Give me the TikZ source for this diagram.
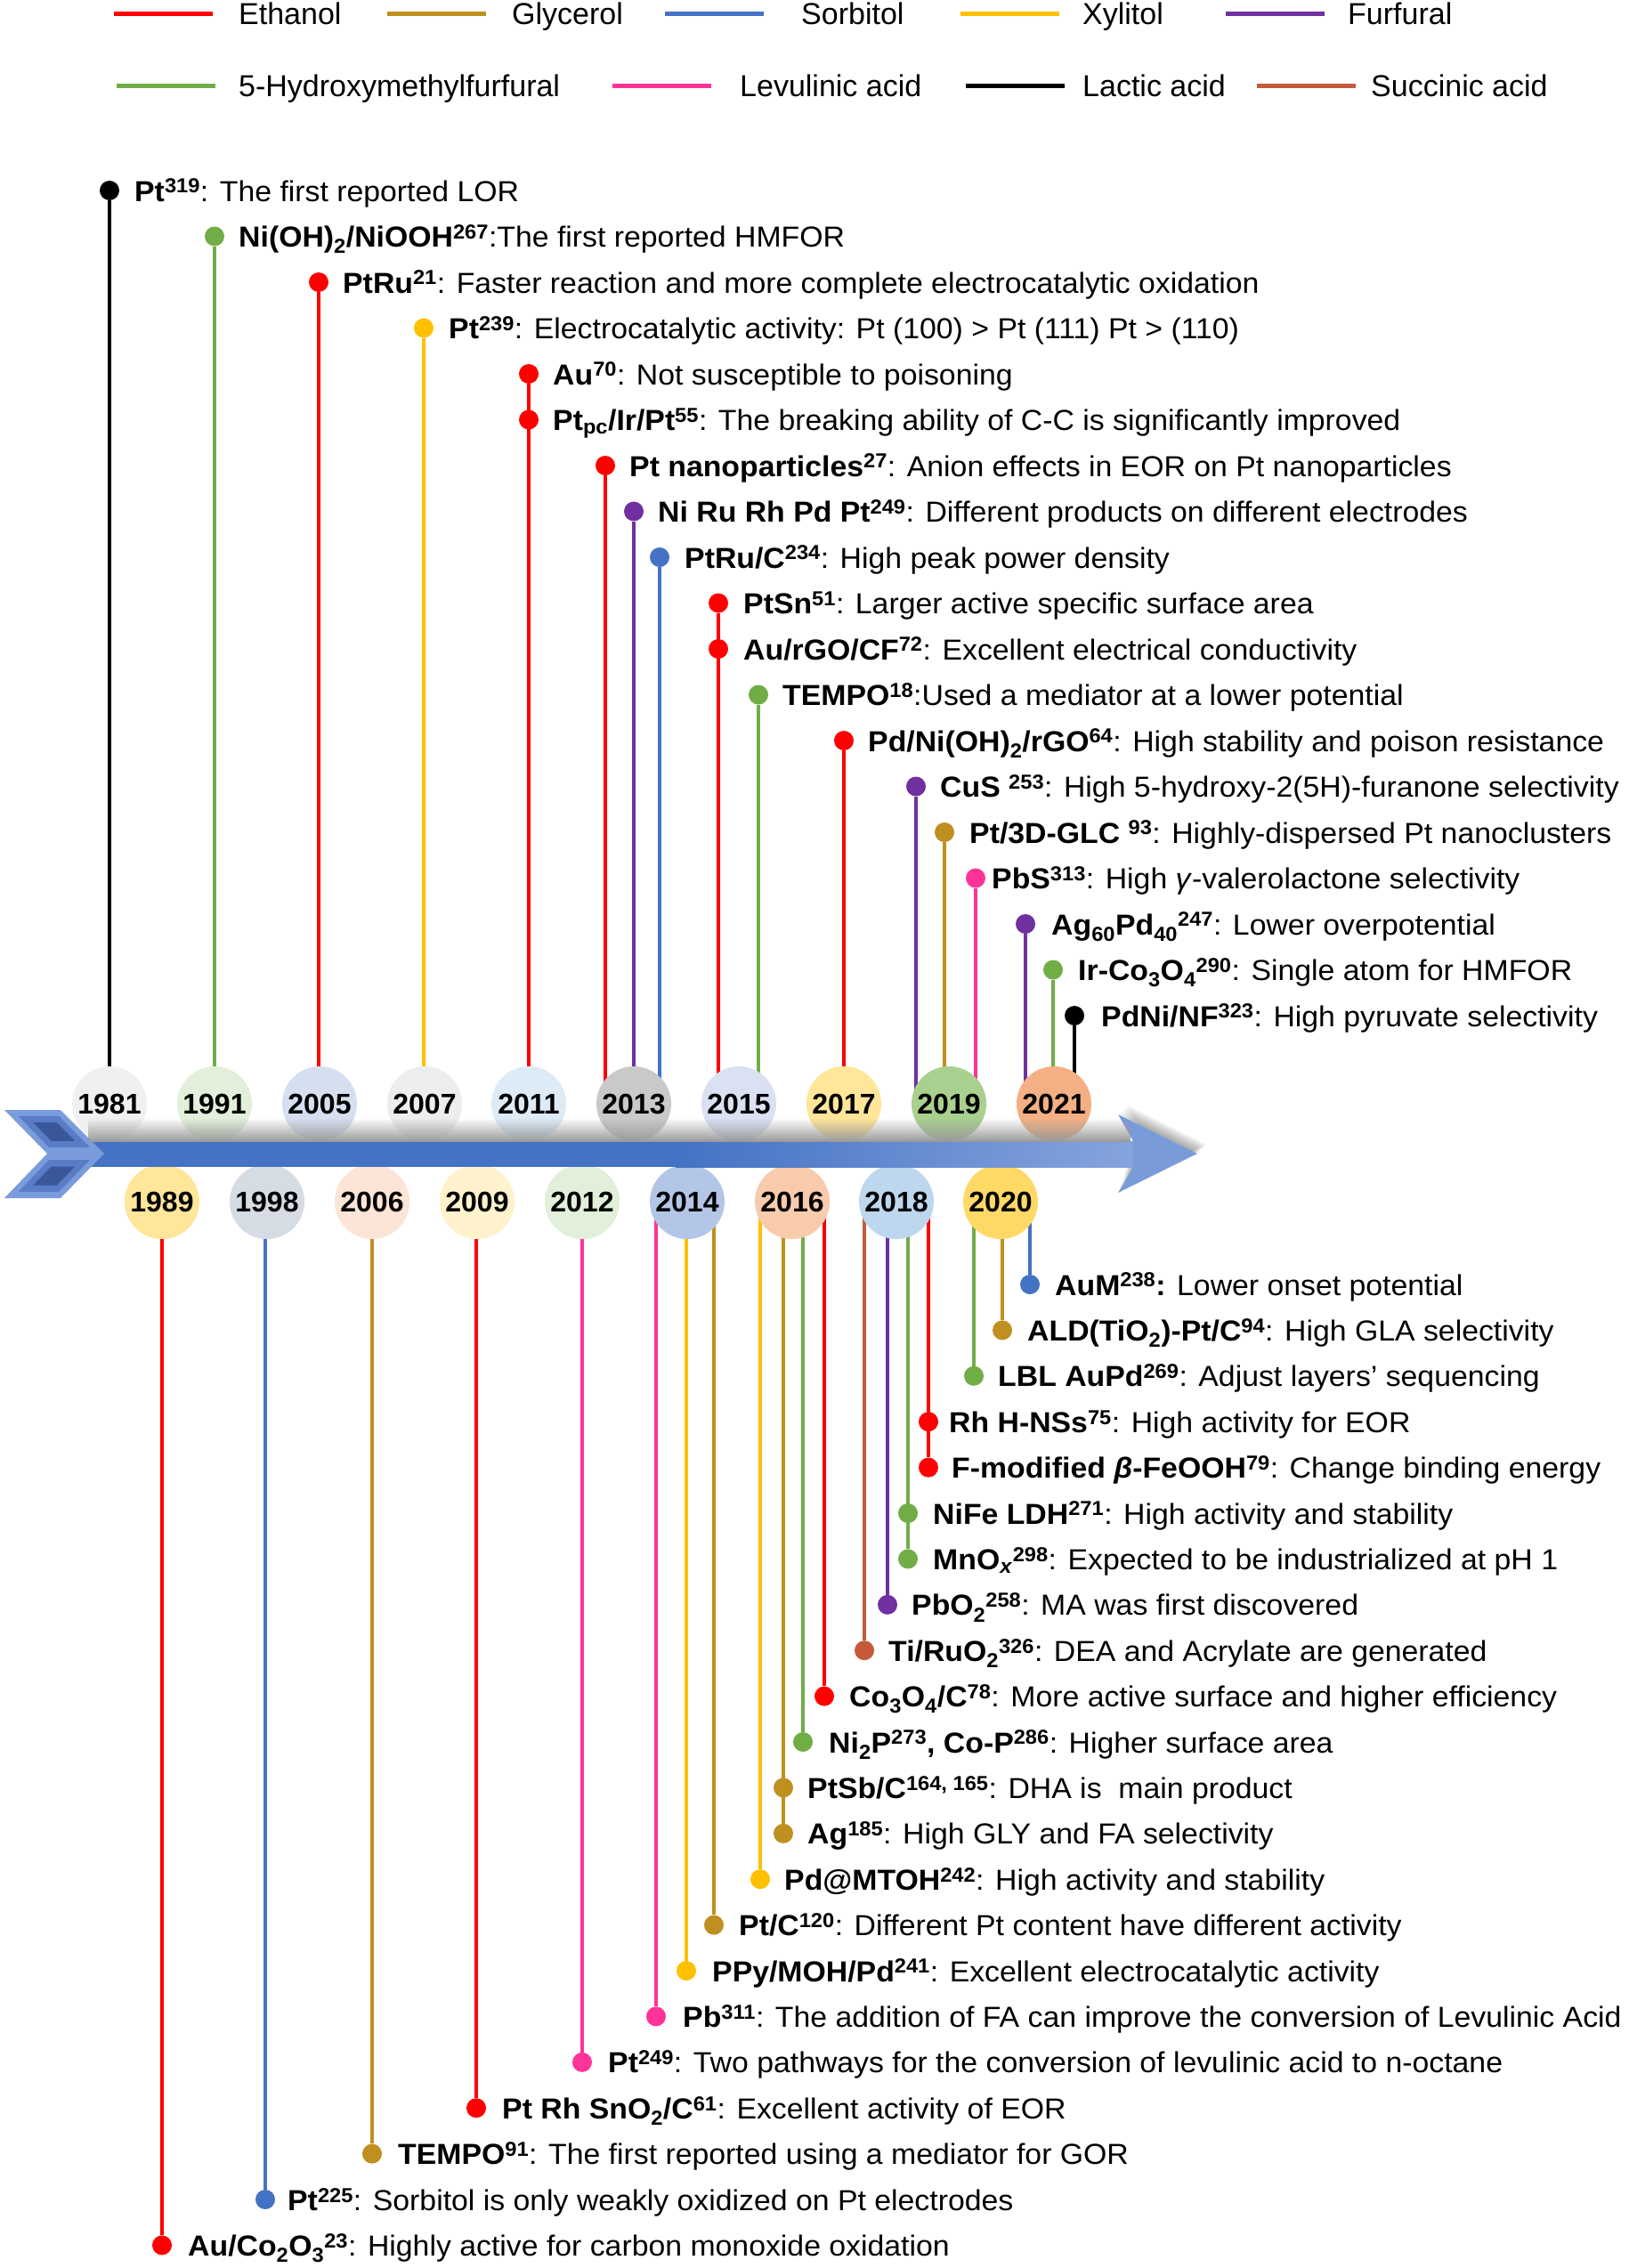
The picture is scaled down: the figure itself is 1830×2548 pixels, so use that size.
\documentclass[tikz,border=0pt]{standalone}
\usepackage{fontspec}
\setmainfont{Liberation Sans}
\newfontfamily\widefont{Liberation Sans}[FakeStretch=1.04]
\usetikzlibrary{fadings}
\pgfdeclarelayer{lines}
\pgfdeclarelayer{low}
\pgfdeclarelayer{mid}
\pgfsetlayers{lines,low,mid,main}
\definecolor{cEth}{HTML}{FF0000}
\definecolor{cGly}{HTML}{BF8F1F}
\definecolor{cSor}{HTML}{4472C4}
\definecolor{cXyl}{HTML}{FFC000}
\definecolor{cFur}{HTML}{7030A0}
\definecolor{cHmf}{HTML}{70AD47}
\definecolor{cLev}{HTML}{FF3399}
\definecolor{cLac}{HTML}{000000}
\definecolor{cSuc}{HTML}{C55A3A}
\definecolor{arL}{HTML}{4472C4}
\definecolor{arR}{HTML}{86A4DE}
\definecolor{arH}{HTML}{7A9BDA}
\definecolor{chevA}{HTML}{7A9CDC}
\definecolor{chevB}{HTML}{587CC6}
\definecolor{chevC}{HTML}{3A5899}
\definecolor{a1}{HTML}{F0F0F0}\definecolor{a2}{HTML}{E2EFDA}\definecolor{a3}{HTML}{D6DFF0}
\definecolor{a4}{HTML}{EDEDED}\definecolor{a5}{HTML}{DDEBF7}\definecolor{a6}{HTML}{C9C9C9}
\definecolor{a7}{HTML}{D9E1F2}\definecolor{a8}{HTML}{FFE699}\definecolor{a9}{HTML}{A9D08E}
\definecolor{a10}{HTML}{F4B084}
\definecolor{b1}{HTML}{FFE699}\definecolor{b2}{HTML}{D6DCE4}\definecolor{b3}{HTML}{FCE4D6}
\definecolor{b4}{HTML}{FFF2CC}\definecolor{b5}{HTML}{E2EFDA}\definecolor{b6}{HTML}{B4C6E7}
\definecolor{b7}{HTML}{F8CBAD}\definecolor{b8}{HTML}{BDD7EE}\definecolor{b9}{HTML}{FFD966}
\tikzset{
  conn/.style={line width=3.2pt},
  legline/.style={line width=5pt},
  dotn/.style={circle,fill=#1,inner sep=0pt,minimum size=22pt},
  lbl/.style={anchor=base west,inner sep=0pt,font=\widefont\fontsize{32.5}{39}\selectfont},
  leglbl/.style={anchor=base west,inner sep=0pt,font=\fontsize{34}{40}\selectfont},
  yr/.style={circle,fill=#1,inner sep=0pt,minimum size=84pt,font=\fontsize{32}{38}\selectfont\bfseries},
}
\newcommand\titem[6]{%
  \node[dotn=#4] (#1) at (#2,#3) {};
  \node[lbl] (#1t) at (#2+#5,#3+12) {#6};}
\newcommand\tconn[3]{%
  \begin{pgfonlayer}{lines}\draw[conn,#3] (#1) -- (#1 |- #2);\end{pgfonlayer}}
\newcommand\legitem[6]{%
  \coordinate (#1a) at (#2,#3);
  \coordinate (#1b) at (#2+111,#3);
  \draw[legline,#4] (#1a) -- (#1b);
  \node[leglbl] (#1t) at (#5,#3+12) {#6};}
\begin{document}
\begin{tikzpicture}[x=1pt,y=-1pt]
\useasboundingbox (0,0) rectangle (1830,2548);
% legend
\legitem{lgA}{128}{16}{cEth}{268}{Ethanol}
\legitem{lgB}{435}{16}{cGly}{575}{Glycerol}
\legitem{lgC}{747}{16}{cSor}{900}{Sorbitol}
\legitem{lgD}{1079}{16}{cXyl}{1216}{Xylitol}
\legitem{lgE}{1377}{16}{cFur}{1514}{Furfural}
\legitem{lgF}{131}{96}{cHmf}{268}{5-Hydroxymethylfurfural}
\legitem{lgG}{688}{96}{cLev}{831}{Levulinic acid}
\legitem{lgH}{1085}{96}{cLac}{1216}{Lactic acid}
\legitem{lgI}{1412}{96}{cSuc}{1540}{Succinic acid}
% bottom year circles
\begin{pgfonlayer}{low}
\node[yr=b1] (y1989) at (182,1350) {1989};
\node[yr=b2] (y1998) at (300,1350) {1998};
\node[yr=b3] (y2006) at (418,1350) {2006};
\node[yr=b4] (y2009) at (536,1350) {2009};
\node[yr=b5] (y2012) at (654,1350) {2012};
\node[yr=b6] (y2014) at (772,1350) {2014};
\node[yr=b7] (y2016) at (890,1350) {2016};
\node[yr=b8] (y2018) at (1007,1350) {2018};
\node[yr=b9] (y2020) at (1124,1350) {2020};
\end{pgfonlayer}
% arrow
\begin{pgfonlayer}{mid}
\foreach \k in {2,4,6,8,10}{
  \fill[black,opacity=0.07] ([shift={(\k,-\k)}]1273,1282) -- ([shift={(\k,-\k)}]1256,1252) -- ([shift={(\k,-\k)}]1345,1296) -- ([shift={(\k,-\k)}]1256,1340) -- cycle;}
\fill[arL] (100,1282) rectangle (760,1311);
\shade[left color=arL,right color=arR] (759,1282) rectangle (1276,1311);
\fill[arH] (1273,1282) -- (1256,1252) -- (1345,1296) -- (1256,1340) -- (1273,1311) -- cycle;
\foreach \s/\c in {1/chevA,0.72/chevB,0.42/chevC}{
  \begin{scope}[shift={(60.75,1271.5)},scale=\s]
    \fill[\c] (-55.75,-24.5) -- (7.25,-24.5) -- (56.25,24.5) -- (-7.75,24.5) -- cycle;
  \end{scope}
  \begin{scope}[shift={(60.75,1321)},scale=\s]
    \fill[\c] (-7.75,-25) -- (56.25,-25) -- (7.25,25) -- (-55.75,25) -- cycle;
  \end{scope}}
\end{pgfonlayer}
% top year circles
\node[yr=a1] (y1981) at (123,1240) {1981};
\node[yr=a2] (y1991) at (241,1240) {1991};
\node[yr=a3] (y2005) at (359,1240) {2005};
\node[yr=a4] (y2007) at (477,1240) {2007};
\node[yr=a5] (y2011) at (594,1240) {2011};
\node[yr=a6] (y2013) at (712,1240) {2013};
\node[yr=a7] (y2015) at (830,1240) {2015};
\node[yr=a8] (y2017) at (948,1240) {2017};
\node[yr=a9] (y2019) at (1066,1240) {2019};
\node[yr=a10] (y2021) at (1184,1240) {2021};
\fill[black!40,path fading=north] (100,1256) rectangle (1272,1282.5);
% top items
\titem{tA}{123}{214}{cLac}{28}{\textbf{Pt\textsuperscript{319}}: The first reported LOR}
\titem{tB}{241}{265.5}{cHmf}{27}{\textbf{Ni(OH)\textsubscript{2}/NiOOH\textsuperscript{267}}:The first reported HMFOR}
\titem{tC}{358}{317}{cEth}{27}{\textbf{PtRu\textsuperscript{21}}: Faster reaction and more complete electrocatalytic oxidation}
\titem{tD}{476}{368.5}{cXyl}{28}{\textbf{Pt\textsuperscript{239}}: Electrocatalytic activity: Pt (100) > Pt (111) Pt > (110)}
\titem{tE}{594}{420}{cEth}{27}{\textbf{Au\textsuperscript{70}}: Not susceptible to poisoning}
\titem{tF}{594}{471.5}{cEth}{27}{\textbf{Pt\textsubscript{pc}/Ir/Pt\textsuperscript{55}}: The breaking ability of C-C is significantly improved}
\titem{tG}{680}{523}{cEth}{27}{\textbf{Pt nanoparticles\textsuperscript{27}}: Anion effects in EOR on Pt nanoparticles}
\titem{tH}{712}{574.5}{cFur}{27}{\textbf{Ni Ru Rh Pd Pt\textsuperscript{249}}: Different products on different electrodes}
\titem{tI}{741}{626}{cSor}{28}{\textbf{PtRu/C\textsuperscript{234}}: High peak power density}
\titem{tJ}{807}{677.5}{cEth}{28}{\textbf{PtSn\textsuperscript{51}}: Larger active specific surface area}
\titem{tK}{807}{729}{cEth}{28}{\textbf{Au/rGO/CF\textsuperscript{72}}: Excellent electrical conductivity}
\titem{tL}{852}{780.5}{cHmf}{27}{\textbf{TEMPO\textsuperscript{18}}:Used a mediator at a lower potential}
\titem{tM}{948}{832}{cEth}{27}{\textbf{Pd/Ni(OH)\textsubscript{2}/rGO\textsuperscript{64}}: High stability and poison resistance}
\titem{tN}{1029}{883.5}{cFur}{27}{\textbf{CuS \textsuperscript{253}}: High 5-hydroxy-2(5H)-furanone selectivity}
\titem{tO}{1061}{935}{cGly}{28}{\textbf{Pt/3D-GLC \textsuperscript{93}}: Highly-dispersed Pt nanoclusters}
\titem{tP}{1096}{986.5}{cLev}{18}{\textbf{PbS\textsuperscript{313}}: High \textit{γ}-valerolactone selectivity}
\titem{tQ}{1152}{1038}{cFur}{29}{\textbf{Ag\textsubscript{60}Pd\textsubscript{40}\textsuperscript{247}}: Lower overpotential}
\titem{tR}{1183}{1089.5}{cHmf}{28}{\textbf{Ir-Co\textsubscript{3}O\textsubscript{4}\textsuperscript{290}}: Single atom for HMFOR}
\titem{tS}{1207}{1141}{cLac}{30}{\textbf{PdNi/NF\textsuperscript{323}}: High pyruvate selectivity}
\tconn{tA}{y1981}{cLac}
\tconn{tB}{y1991}{cHmf}
\tconn{tC}{y2005}{cEth}
\tconn{tD}{y2007}{cXyl}
\tconn{tE}{y2011}{cEth}
\tconn{tG}{y2013}{cEth}
\tconn{tH}{y2013}{cFur}
\tconn{tI}{y2013}{cSor}
\tconn{tJ}{y2015}{cEth}
\tconn{tL}{y2015}{cHmf}
\tconn{tM}{y2017}{cEth}
\tconn{tN}{y2019}{cFur}
\tconn{tO}{y2019}{cGly}
\tconn{tP}{y2019}{cLev}
\tconn{tQ}{y2021}{cFur}
\tconn{tR}{y2021}{cHmf}
\tconn{tS}{y2021}{cLac}
% bottom items
\titem{bA}{1157}{1443}{cSor}{28}{\textbf{AuM\textsuperscript{238}:} Lower onset potential}
\titem{bB}{1126}{1494.4}{cGly}{28}{\textbf{ALD(TiO\textsubscript{2})-Pt/C\textsuperscript{94}}: High GLA selectivity}
\titem{bC}{1094}{1545.8}{cHmf}{27}{\textbf{LBL AuPd\textsuperscript{269}}: Adjust layers’ sequencing}
\titem{bD}{1043}{1597.2}{cEth}{23}{\textbf{Rh H-NSs\textsuperscript{75}}: High activity for EOR}
\titem{bE}{1043}{1648.6}{cEth}{26}{\textbf{F-modified \textit{β}-FeOOH\textsuperscript{79}}: Change binding energy}
\titem{bF}{1020}{1700}{cHmf}{28}{\textbf{NiFe LDH\textsuperscript{271}}: High activity and stability}
\titem{bG}{1020}{1751.4}{cHmf}{28}{\textbf{MnO\textsubscript{\textit{x}}\textsuperscript{298}}: Expected to be industrialized at pH 1}
\titem{bH}{997}{1802.8}{cFur}{27}{\textbf{PbO\textsubscript{2}\textsuperscript{258}}: MA was first discovered}
\titem{bI}{971}{1854.2}{cSuc}{27}{\textbf{Ti/RuO\textsubscript{2}\textsuperscript{326}}: DEA and Acrylate are generated}
\titem{bJ}{926}{1905.6}{cEth}{28}{\textbf{Co\textsubscript{3}O\textsubscript{4}/C\textsuperscript{78}}: More active surface and higher efficiency}
\titem{bK}{902}{1957}{cHmf}{29}{\textbf{Ni\textsubscript{2}P\textsuperscript{273}, Co-P\textsuperscript{286}}: Higher surface area}
\titem{bL}{880}{2008.4}{cGly}{27}{\textbf{PtSb/C\textsuperscript{164, 165}}: DHA is\ \ main product}
\titem{bM}{880}{2059.8}{cGly}{27}{\textbf{Ag\textsuperscript{185}}: High GLY and FA selectivity}
\titem{bN}{854}{2111.2}{cXyl}{27}{\textbf{Pd@MTOH\textsuperscript{242}}: High activity and stability}
\titem{bO}{802}{2162.6}{cGly}{28}{\textbf{Pt/C\textsuperscript{120}}: Different Pt content have different activity}
\titem{bP}{771}{2214}{cXyl}{29}{\textbf{PPy/MOH/Pd\textsuperscript{241}}: Excellent electrocatalytic activity}
\titem{bQ}{737}{2265.4}{cLev}{30}{\textbf{Pb\textsuperscript{311}}: The addition of FA can improve the conversion of Levulinic Acid}
\titem{bR}{654}{2316.8}{cLev}{29}{\textbf{Pt\textsuperscript{249}}: Two pathways for the conversion of levulinic acid to n-octane}
\titem{bS}{535}{2368.2}{cEth}{29}{\textbf{Pt Rh SnO\textsubscript{2}/C\textsuperscript{61}}: Excellent activity of EOR}
\titem{bT}{418}{2419.6}{cGly}{29}{\textbf{TEMPO\textsuperscript{91}}: The first reported using a mediator for GOR}
\titem{bU}{298}{2471}{cSor}{25}{\textbf{Pt\textsuperscript{225}}: Sorbitol is only weakly oxidized on Pt electrodes}
\titem{bV}{182}{2522.4}{cEth}{29}{\textbf{Au/Co\textsubscript{2}O\textsubscript{3}\textsuperscript{23}}: Highly active for carbon monoxide oxidation}
\tconn{bA}{y2020}{cSor}
\tconn{bB}{y2020}{cGly}
\tconn{bC}{y2020}{cHmf}
\tconn{bE}{y2018}{cEth}
\tconn{bG}{y2018}{cHmf}
\tconn{bH}{y2018}{cFur}
\tconn{bI}{y2018}{cSuc}
\tconn{bJ}{y2016}{cEth}
\tconn{bK}{y2016}{cHmf}
\tconn{bM}{y2016}{cGly}
\tconn{bN}{y2016}{cXyl}
\tconn{bO}{y2014}{cGly}
\tconn{bP}{y2014}{cXyl}
\tconn{bQ}{y2014}{cLev}
\tconn{bR}{y2012}{cLev}
\tconn{bS}{y2009}{cEth}
\tconn{bT}{y2006}{cGly}
\tconn{bU}{y1998}{cSor}
\tconn{bV}{y1989}{cEth}
\end{tikzpicture}
\end{document}
